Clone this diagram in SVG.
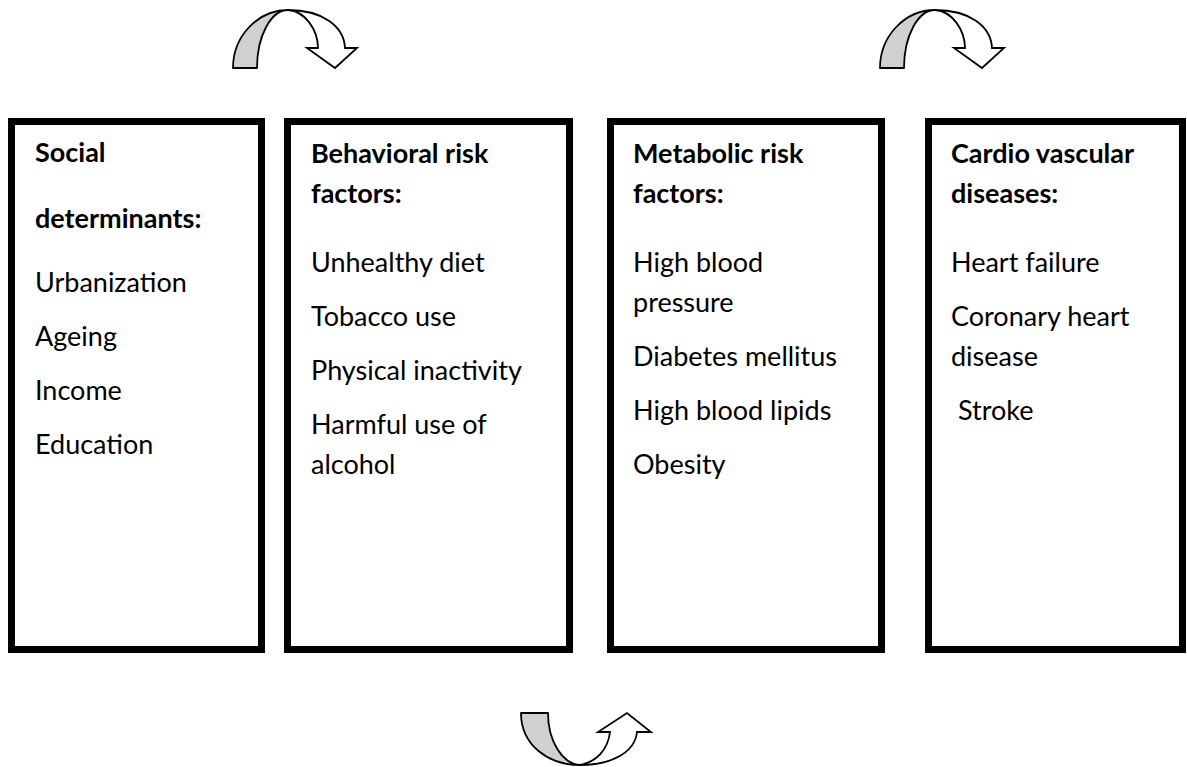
<svg xmlns="http://www.w3.org/2000/svg" width="1187" height="767" viewBox="0 0 1187 767">
<style>
.box{fill:#fff;stroke:#000;stroke-width:7}
.t{font-family:Lato,"Open Sans","Liberation Sans",sans-serif;font-size:27px;fill:#000}
.h{font-weight:bold}
.band{fill:#d0d0d0;stroke:#000;stroke-width:1.8;stroke-linejoin:round}
.head{fill:#fff;stroke:#000;stroke-width:1.8;stroke-linejoin:miter}
</style>
<rect width="1187" height="767" fill="#fff"/>
<g id="connectors">
<g id="arrow1">
<path class="band" d="M233,68 C233,36 258,10 288,10 C271,10 257,36 257,68 Z"/>
<path class="head" d="M288,10 C322,10 344,26 345,48 L357,48 L335,68 L307,48 L318,48 C318,30 305,11 288,10 Z"/>
</g>
<g id="arrow2" transform="translate(647,0)">
<path class="band" d="M233,68 C233,36 258,10 288,10 C271,10 257,36 257,68 Z"/>
<path class="head" d="M288,10 C322,10 344,26 345,48 L357,48 L335,68 L307,48 L318,48 C318,30 305,11 288,10 Z"/>
</g>
<g id="arrow3">
<path class="band" d="M521,713 L548,713 C548,742 563,764 580,765 C548,765 521,745 521,713 Z"/>
<path class="head" d="M580,765 C612,765 635,752 637,732 L651,732 L627,713 L598,732 L610,732 C608,750 596,762 580,765 Z"/>
</g>
</g>
<g id="social">
<rect class="box" x="11.5" y="121.5" width="250" height="528"/>
<text class="t h" x="35" y="162">Social</text>
<text class="t h" x="35" y="228">determinants:</text>
<text class="t" x="35" y="292">Urbanization</text>
<text class="t" x="35" y="346">Ageing</text>
<text class="t" x="35" y="400">Income</text>
<text class="t" x="35" y="454">Education</text>
</g>
<g id="behavioral">
<rect class="box" x="287.5" y="121.5" width="282" height="528"/>
<text class="t h" x="311" y="163">Behavioral risk</text>
<text class="t h" x="311" y="203">factors:</text>
<text class="t" x="311" y="272">Unhealthy diet</text>
<text class="t" x="311" y="326">Tobacco use</text>
<text class="t" x="311" y="380">Physical inactivity</text>
<text class="t" x="311" y="434">Harmful use of</text>
<text class="t" x="311" y="474">alcohol</text>
</g>
<g id="metabolic">
<rect class="box" x="610.5" y="121.5" width="271" height="528"/>
<text class="t h" x="633" y="163">Metabolic risk</text>
<text class="t h" x="633" y="203">factors:</text>
<text class="t" x="633" y="272">High blood</text>
<text class="t" x="633" y="312">pressure</text>
<text class="t" x="633" y="366">Diabetes mellitus</text>
<text class="t" x="633" y="420">High blood lipids</text>
<text class="t" x="633" y="474">Obesity</text>
</g>
<g id="cardio">
<rect class="box" x="928.5" y="121.5" width="254" height="528"/>
<text class="t h" x="951" y="163">Cardio vascular</text>
<text class="t h" x="951" y="203">diseases:</text>
<text class="t" x="951" y="272">Heart failure</text>
<text class="t" x="951" y="326">Coronary heart</text>
<text class="t" x="951" y="366">disease</text>
<text class="t" x="958" y="420">Stroke</text>
</g>
</svg>
